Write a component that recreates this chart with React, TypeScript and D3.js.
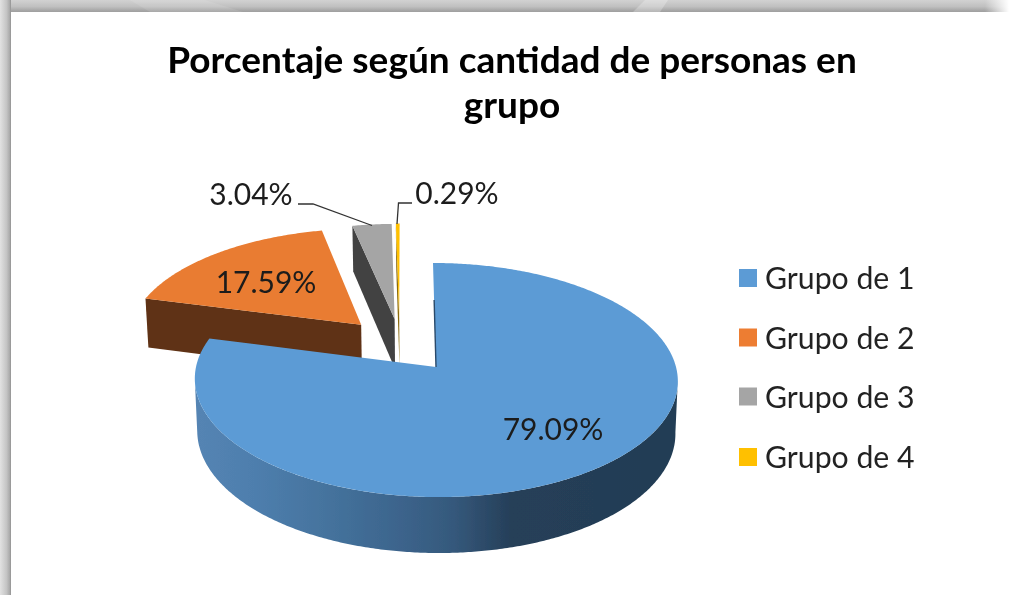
import React from "react";
import * as d3 from "d3";

const categories = ["Grupo de 1", "Grupo de 2", "Grupo de 3", "Grupo de 4"];
const values = [79.09, 17.59, 3.04, 0.29];
const valueLabels = ["79.09%", "17.59%", "3.04%", "0.29%"];
const topColors = ["#5b9bd5", "#e97c30", "#a5a5a5", "#ffc000"];
const legendColors = ["#5b9bd5", "#ed7d31", "#a5a5a5", "#ffc000"];
const wallColors = ["#2a4a6a", "#5f3113", "#434343", "#8a6a10"];
const explodeU = [0, -0.32, -0.175, -0.155];
const explodeV = [0, 0.38, 0.435, 0.44];
const titleLines = ["Porcentaje según cantidad de personas en", "grupo"];
const labelPos = [
  { x: 553, y: 440 },
  { x: 266, y: 293 },
  { x: 251, y: 205 },
  { x: 457, y: 204 },
];
const legendY = [278, 337.5, 396.5, 457];
const font = "Lato, Carlito, Calibri, sans-serif";

const W = 1009;
const H = 595;
const APEX_X = 436;
const APEX_Y = 367;
const RX = 240;
const RY = 115.6;
const K = 1 / 9;
const SKEW = 3;

// perspective projection of the pie's disk onto the screen
const project = (u: number, v: number, bottom = false): [number, number] => {
  const w = 1 + K * v;
  const x = APEX_X + (RX * u) / w - SKEW * v;
  const y = APEX_Y - (RY * v) / w;
  if (!bottom) return [x, y];
  const depth = 51.7 - 4.27 * v;
  return [APEX_X + (x - APEX_X) * 0.99, y + depth];
};

const pie = d3
  .pie<number>()
  .sort(null)
  .startAngle(0)
  .endAngle(Math.PI * 2);
const arcs = pie(values);
const line = d3.line();

const rim = (i: number, a0: number, a1: number, bottom = false): [number, number][] => {
  const n = Math.max(2, Math.ceil(Math.abs(a1 - a0) / 0.01));
  return d3.range(n + 1).map((k) => {
    const a = a0 + ((a1 - a0) * k) / n;
    return project(Math.sin(a) + explodeU[i], Math.cos(a) + explodeV[i], bottom);
  });
};
const apex = (i: number, bottom = false) => project(explodeU[i], explodeV[i], bottom);

const topFace = (i: number) =>
  line([...rim(i, arcs[i].startAngle, arcs[i].endAngle), apex(i)])! + "Z";
const edgeWall = (i: number, a: number) =>
  line([
    rim(i, a, a)[0],
    apex(i),
    apex(i, true),
    rim(i, a, a, true)[0],
  ])! + "Z";
const frontWall = (i: number, a0: number, a1: number) =>
  line([...rim(i, a0, a1), ...rim(i, a1, a0, true)])! + "Z";

// the rim's widest points on screen, where the side wall's silhouette starts
const widest = Math.acos(-K);

const sideStops: [number, string][] = [
  [0, "#5484b3"],
  [0.12, "#4e7ead"],
  [0.28, "#44729c"],
  [0.42, "#3c648c"],
  [0.53, "#35597c"],
  [0.65, "#263f59"],
  [1, "#223d54"],
];

export default function App() {
  return (
    <svg
      width={W}
      height={H}
      viewBox={`0 0 ${W} ${H}`}
      style={{ position: "absolute", left: 0, top: 0, display: "block", background: "#fff" }}
    >
      <defs>
        <linearGradient id="side" gradientUnits="userSpaceOnUse" x1={198} x2={679} y1={0} y2={0}>
          {sideStops.map(([o, c]) => (
            <stop key={o} offset={o} stopColor={c} />
          ))}
        </linearGradient>
        <linearGradient id="bandTop" x1="0" x2="0" y1="0" y2="1">
          <stop offset="0" stopColor="#d2d2d2" />
          <stop offset="0.55" stopColor="#c0c0c0" />
          <stop offset="0.85" stopColor="#a8a8a8" />
          <stop offset="1" stopColor="#9f9f9f" />
        </linearGradient>
        <linearGradient id="bandLeft" x1="0" x2="1" y1="0" y2="0">
          <stop offset="0" stopColor="#e2e2e2" />
          <stop offset="0.6" stopColor="#c4c4c4" />
          <stop offset="0.9" stopColor="#a8a8a8" />
          <stop offset="1" stopColor="#8f8f8f" />
        </linearGradient>
        <linearGradient id="fadeRight" x1="0" x2="1" y1="0" y2="0">
          <stop offset="0" stopColor="#fff" stopOpacity={0} />
          <stop offset="1" stopColor="#fff" stopOpacity={1} />
        </linearGradient>
        <filter id="soft" x="0" y="0" width="100%" height="100%">
          <feGaussianBlur stdDeviation="0.45" />
        </filter>
      </defs>

      <rect x={0} y={0} width={W} height={12} fill="url(#bandTop)" />
      <rect x={0} y={0} width={11} height={H} fill="url(#bandLeft)" />
      <polygon points="130,0 205,0 243,12 150,12" fill="#fff" opacity={0.1} />
      <polygon points="645,0 668,0 660,12 633,12" fill="#fff" opacity={0.25} />
      <rect x={985} y={0} width={24} height={12} fill="url(#fadeRight)" />

      <g filter="url(#soft)">
        {titleLines.map((t, i) => (
          <text
            key={t}
            x={512}
            y={73 + i * 45}
            textAnchor="middle"
            fontFamily={font}
            fontWeight={700}
            fontSize={37}
            fill="#000"
          >
            {t}
          </text>
        ))}

        {/* exploded slices, back to front */}
        {[1, 2, 3].map((i) => (
          <g key={categories[i]}>
            <path d={edgeWall(i, arcs[i].startAngle)} fill={wallColors[i]} />
            <path d={topFace(i)} fill={topColors[i]} />
          </g>
        ))}

        {/* main slice */}
        <path d={frontWall(0, widest, Math.PI * 2 - widest)} fill="url(#side)" />
        <path d={topFace(0)} fill={topColors[0]} />
        <path
          d={line([project(0, 0.62), project(0, 0)])!}
          stroke={wallColors[0]}
          strokeWidth={1.4}
          fill="none"
        />

        {/* leader lines */}
        <path d="M298,204 L313,204 L372,225.5" fill="none" stroke="#333" strokeWidth={1.3} />
        <path d="M412,203 L398.5,203 L397,224" fill="none" stroke="#333" strokeWidth={1.3} />

        {valueLabels.map((t, i) => (
          <text
            key={t}
            x={labelPos[i].x}
            y={labelPos[i].y}
            textAnchor="middle"
            fontFamily={font}
            fontSize={30}
            fill="#1c1c1c"
          >
            {t}
          </text>
        ))}

        {categories.map((c, i) => (
          <g key={c}>
            <rect x={739} y={legendY[i] - 9} width={18} height={18} fill={legendColors[i]} />
            <text x={765} y={legendY[i] + 11} fontFamily={font} fontSize={30.2} fill="#222">
              {c}
            </text>
          </g>
        ))}
      </g>
    </svg>
  );
}
